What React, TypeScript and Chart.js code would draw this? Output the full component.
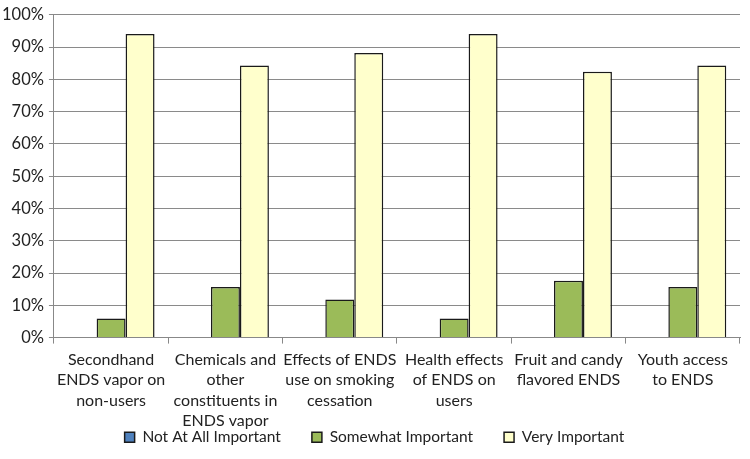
import React, { useEffect, useRef } from "react";
import { Chart, registerables } from "chart.js";

Chart.register(...registerables);

const categories: string[][] = [
  ["Secondhand", "ENDS vapor on", "non-users"],
  ["Chemicals and", "other", "constituents in", "ENDS vapor"],
  ["Effects of ENDS", "use on smoking", "cessation"],
  ["Health effects", "of ENDS on", "users"],
  ["Fruit and candy", "flavored ENDS"],
  ["Youth access", "to ENDS"],
];
const seriesNames = ["Not At All Important", "Somewhat Important", "Very Important"];
const notAtAll = [0, 0, 0, 0, 0, 0];
const somewhat = [0.059, 0.157, 0.118, 0.059, 0.176, 0.157];
const very = [0.941, 0.843, 0.882, 0.941, 0.824, 0.843];
const yTicks = [0, 0.1, 0.2, 0.3, 0.4, 0.5, 0.6, 0.7, 0.8, 0.9, 1];

const FONT = "Lato, 'Open Sans', sans-serif";
const GAP = "\u2003\u2003\u2002";

const legendShift = {
  id: "legendShift",
  afterLayout(chart: any) {
    const lg = chart.legend;
    if (lg) {
      lg.top -= 8;
      lg.bottom -= 8;
      lg.left += 6;
      lg.right += 6;
    }
  },
};

export default function App() {
  const ref = useRef<HTMLCanvasElement | null>(null);
  useEffect(() => {
    if (!ref.current) return;
    const chart = new Chart(ref.current, {
      type: "bar",
      data: {
        labels: categories,
        datasets: [
          { label: seriesNames[0] + GAP, data: notAtAll, backgroundColor: "#4F81BD", borderColor: "#1a1a1a", borderWidth: 1.5 },
          { label: seriesNames[1] + GAP, data: somewhat, backgroundColor: "#9BBB59", borderColor: "#1a1a1a", borderWidth: 1.5 },
          { label: seriesNames[2], data: very, backgroundColor: "#FFFFCC", borderColor: "#1a1a1a", borderWidth: 1.5 },
        ],
      },
      plugins: [legendShift],
      options: {
        animation: false,
        responsive: false,
        maintainAspectRatio: false,
        layout: { padding: { top: 9, right: 10, left: -3, bottom: -4 } },
        datasets: { bar: { categoryPercentage: 0.76, barPercentage: 1 } },
        plugins: {
          tooltip: { enabled: false },
          legend: {
            position: "bottom",
            labels: {
              boxWidth: 10,
              boxHeight: 10,
              padding: 0,
              color: "#222",
              font: { family: FONT, size: 15.5 },
            },
          },
        },
        scales: {
          x: {
            grid: { offset: true, drawOnChartArea: false, drawTicks: true, tickLength: 6, color: "#888" },
            border: { color: "#888", width: 1 },
            ticks: { color: "#222", font: { family: FONT, size: 16, lineHeight: 1.28 }, maxRotation: 0, autoSkip: false, padding: 6 },
          },
          y: {
            min: 0,
            max: 1,
            afterBuildTicks: (axis: any) => {
              axis.ticks = yTicks.map((v) => ({ value: v }));
            },
            grid: { color: "#8a8a8a", tickLength: 5 },
            border: { color: "#888", width: 1 },
            ticks: {
              color: "#222",
              font: { family: FONT, size: 16.5 },
              padding: 5,
              callback: (v: any) => Math.round(Number(v) * 100) + "%",
            },
          },
        },
      },
    });
    return () => chart.destroy();
  }, []);
  return (
    <div style={{ position: "fixed", left: 0, top: 0, width: 750, height: 459, background: "#fff" }}>
      <canvas ref={ref} width={750} height={459} style={{ width: 750, height: 459 }} />
    </div>
  );
}
